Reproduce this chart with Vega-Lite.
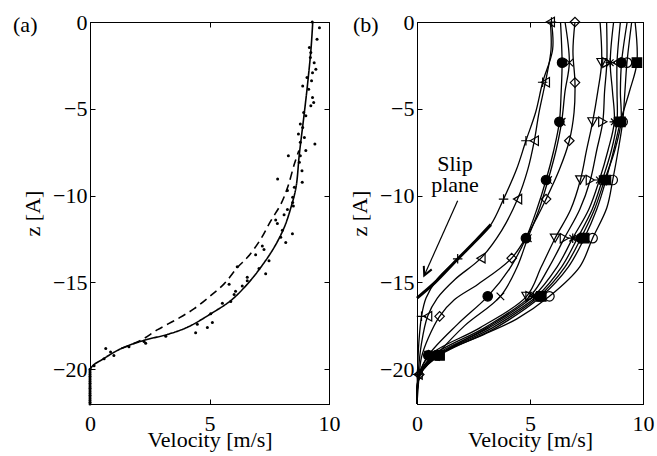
{
  "$schema": "https://vega.github.io/schema/vega-lite/v6.json",
  "background": "white",
  "padding": {"left": 12, "top": 10, "right": 4, "bottom": 4},
  "bounds": "flush",
  "spacing": 88,
  "config": {
    "view": {"stroke": "black", "strokeWidth": 1},
    "axis": {"domainColor": "black", "tickColor": "black", "labelColor": "black", "titleColor": "black", "labelFont": "Liberation Serif", "titleFont": "Liberation Serif", "labelFontSize": 22, "titleFontSize": 22, "titleFontWeight": "normal", "grid": false, "labelFlush": false, "labelOverlap": false, "labelBound": false},
    "text": {"font": "Liberation Serif", "fontSize": 22, "color": "black"}
  },
  "datasets": {
    "a_dots": [
      {"v":9.3,"z":0},{"v":9.6,"z":-0.33},{"v":9.5,"z":-1.0},{"v":9.18,"z":-1.47},{"v":9.24,"z":-1.76},{"v":9.22,"z":-2.05},{"v":9.38,"z":-2.34},{"v":9.45,"z":-2.72},{"v":9.31,"z":-2.92},{"v":9.08,"z":-3.2},{"v":9.27,"z":-3.39},{"v":8.9,"z":-3.68},{"v":9.15,"z":-3.87},{"v":9.31,"z":-4.35},{"v":9.36,"z":-4.64},{"v":9.24,"z":-4.83},{"v":8.94,"z":-5.21},{"v":9.03,"z":-5.4},{"v":8.8,"z":-5.88},{"v":8.9,"z":-6.07},{"v":8.72,"z":-6.45},{"v":8.97,"z":-6.65},{"v":8.8,"z":-6.93},{"v":9.41,"z":-7.03},{"v":9.03,"z":-7.4},{"v":8.8,"z":-7.7},{"v":8.3,"z":-7.7},{"v":8.76,"z":-8.08},{"v":8.87,"z":-8.56},{"v":7.85,"z":-9.04},{"v":8.88,"z":-9.23},{"v":8.55,"z":-9.52},{"v":8.26,"z":-9.7},{"v":8.48,"z":-10.1},{"v":8.48,"z":-10.4},{"v":8.51,"z":-10.6},{"v":8.26,"z":-10.8},{"v":8.12,"z":-11.1},{"v":7.77,"z":-11.4},{"v":7.84,"z":-11.6},{"v":8.05,"z":-12.0},{"v":8.47,"z":-12.2},{"v":7.98,"z":-12.4},{"v":8.19,"z":-12.7},{"v":7.21,"z":-12.9},{"v":7.28,"z":-13.1},{"v":6.93,"z":-13.4},{"v":7.49,"z":-13.75},{"v":6.16,"z":-14.1},{"v":7.07,"z":-14.2},{"v":7.35,"z":-14.5},{"v":6.58,"z":-14.7},{"v":6.58,"z":-14.9},{"v":5.82,"z":-15.1},{"v":6.37,"z":-15.2},{"v":6.09,"z":-15.5},{"v":6.03,"z":-15.7},{"v":5.89,"z":-16.1},{"v":5.54,"z":-16.2},{"v":5.05,"z":-16.8},{"v":5.12,"z":-17.3},{"v":4.49,"z":-17.4},{"v":4.91,"z":-17.6},{"v":4.42,"z":-17.9},{"v":3.17,"z":-18.1},{"v":2.26,"z":-18.4},{"v":2.33,"z":-18.5},{"v":1.63,"z":-18.7},{"v":0.66,"z":-18.8},{"v":0.86,"z":-19.0},{"v":1.0,"z":-19.2},{"v":0.59,"z":-19.4},{"v":0.17,"z":-19.8},
      {"v":0,"z":-20.0},{"v":0,"z":-20.1},{"v":0,"z":-20.2},{"v":0,"z":-20.3},{"v":0,"z":-20.4},{"v":0,"z":-20.5},{"v":0,"z":-20.6},{"v":0,"z":-20.7},{"v":0,"z":-20.8},{"v":0,"z":-20.9},{"v":0,"z":-21.0},{"v":0,"z":-21.1},{"v":0,"z":-21.2},{"v":0,"z":-21.3},{"v":0,"z":-21.4},{"v":0,"z":-21.5},{"v":0,"z":-21.6},{"v":0,"z":-21.7},{"v":0,"z":-21.8},{"v":0,"z":-21.9},{"v":0,"z":-22.0}
    ],
    "a_lines": [
      {"s":"solid","v":0,"z":-20.0},{"s":"solid","v":0.15,"z":-19.75},{"s":"solid","v":0.46,"z":-19.48},{"s":"solid","v":1.3,"z":-18.81},{"s":"solid","v":2.27,"z":-18.33},{"s":"solid","v":3.25,"z":-17.99},{"s":"solid","v":4.09,"z":-17.57},{"s":"solid","v":5.06,"z":-16.8},{"s":"solid","v":5.9,"z":-16.03},{"s":"solid","v":6.6,"z":-15.07},{"s":"solid","v":7.15,"z":-14.12},{"s":"solid","v":7.71,"z":-12.97},{"s":"solid","v":8.13,"z":-11.82},{"s":"solid","v":8.41,"z":-10.67},{"s":"solid","v":8.62,"z":-9.52},{"s":"solid","v":8.76,"z":-7.6},{"s":"solid","v":8.97,"z":-5.2},{"s":"solid","v":9.11,"z":-3.49},{"s":"solid","v":9.25,"z":-1.5},{"s":"solid","v":9.32,"z":0},
      {"s":"dashed","v":1.3,"z":-18.81},{"s":"dashed","v":2.13,"z":-18.33},{"s":"dashed","v":2.83,"z":-17.72},{"s":"dashed","v":3.67,"z":-17.09},{"s":"dashed","v":4.36,"z":-16.51},{"s":"dashed","v":5.06,"z":-15.75},{"s":"dashed","v":5.62,"z":-15.07},{"s":"dashed","v":6.18,"z":-14.12},{"s":"dashed","v":6.6,"z":-13.54},{"s":"dashed","v":7.15,"z":-12.49},{"s":"dashed","v":7.57,"z":-11.44},{"s":"dashed","v":7.99,"z":-10.48},{"s":"dashed","v":8.27,"z":-9.52},{"s":"dashed","v":8.55,"z":-8.18},{"s":"dashed","v":8.74,"z":-7.4}
    ],
    "b_slip": [
      {"v":0,"z":-15.9},{"v":0.8,"z":-15.0},{"v":1.8,"z":-13.65},{"v":2.6,"z":-12.6},{"v":3.27,"z":-11.67}
    ],
    "b_curves": [
      {"c":"plus","v":5.95,"z":0,"m":1},{"c":"plus","v":6.0,"z":-1.6,"m":0},{"c":"plus","v":5.56,"z":-3.47,"m":1},{"c":"plus","v":5.25,"z":-5.2,"m":0},{"c":"plus","v":4.82,"z":-6.84,"m":1},{"c":"plus","v":4.4,"z":-8.5,"m":0},{"c":"plus","v":3.83,"z":-10.2,"m":1},{"c":"plus","v":3.27,"z":-11.67,"m":0},{"c":"plus","v":2.6,"z":-12.6,"m":0},{"c":"plus","v":1.8,"z":-13.64,"m":1},{"c":"plus","v":0.9,"z":-14.8,"m":0},{"c":"plus","v":0.4,"z":-15.9,"m":0},{"c":"plus","v":0.2,"z":-16.95,"m":1},{"c":"plus","v":0.08,"z":-18.5,"m":0},{"c":"plus","v":0.02,"z":-20.3,"m":1},{"c":"plus","v":0,"z":-22,"m":0},
      {"c":"tril","v":5.9,"z":0,"m":1},{"c":"tril","v":5.93,"z":-1.6,"m":0},{"c":"tril","v":5.68,"z":-3.47,"m":1},{"c":"tril","v":5.4,"z":-5.2,"m":0},{"c":"tril","v":5.19,"z":-6.84,"m":1},{"c":"tril","v":4.9,"z":-8.5,"m":0},{"c":"tril","v":4.45,"z":-10.2,"m":1},{"c":"tril","v":3.75,"z":-12.0,"m":0},{"c":"tril","v":2.83,"z":-13.6,"m":1},{"c":"tril","v":1.7,"z":-14.8,"m":0},{"c":"tril","v":0.9,"z":-15.9,"m":0},{"c":"tril","v":0.47,"z":-16.95,"m":1},{"c":"tril","v":0.2,"z":-18.5,"m":0},{"c":"tril","v":0.05,"z":-20.3,"m":1},{"c":"tril","v":0,"z":-22,"m":0},
      {"c":"diam","v":6.99,"z":0,"m":1},{"c":"diam","v":6.9,"z":-1.7,"m":0},{"c":"diam","v":6.99,"z":-3.49,"m":1},{"c":"diam","v":6.95,"z":-5.2,"m":0},{"c":"diam","v":6.74,"z":-6.84,"m":1},{"c":"diam","v":6.3,"z":-8.5,"m":0},{"c":"diam","v":5.71,"z":-10.2,"m":1},{"c":"diam","v":5.0,"z":-12.0,"m":0},{"c":"diam","v":4.19,"z":-13.6,"m":1},{"c":"diam","v":2.7,"z":-15.1,"m":0},{"c":"diam","v":1.65,"z":-16.0,"m":0},{"c":"diam","v":1.0,"z":-16.95,"m":1},{"c":"diam","v":0.5,"z":-18.2,"m":0},{"c":"diam","v":0.2,"z":-19.3,"m":0},{"c":"diam","v":0.1,"z":-20.3,"m":1},{"c":"diam","v":0,"z":-22,"m":0},
      {"c":"dot","v":6.35,"z":0,"m":0},{"c":"dot","v":6.42,"z":-2.34,"m":1},{"c":"dot","v":6.38,"z":-4.0,"m":0},{"c":"dot","v":6.3,"z":-5.75,"m":1},{"c":"dot","v":6.05,"z":-7.4,"m":0},{"c":"dot","v":5.71,"z":-9.1,"m":1},{"c":"dot","v":5.3,"z":-10.8,"m":0},{"c":"dot","v":4.82,"z":-12.45,"m":1},{"c":"dot","v":4.1,"z":-14.2,"m":0},{"c":"dot","v":3.13,"z":-15.8,"m":1},{"c":"dot","v":1.8,"z":-17.4,"m":0},{"c":"dot","v":0.5,"z":-19.2,"m":1},{"c":"dot","v":0.1,"z":-20.3,"m":0},{"c":"dot","v":0,"z":-22,"m":0},
      {"c":"x","v":6.55,"z":0,"m":0},{"c":"x","v":6.74,"z":-2.34,"m":1},{"c":"x","v":6.55,"z":-4.0,"m":0},{"c":"x","v":6.4,"z":-5.75,"m":1},{"c":"x","v":6.15,"z":-7.4,"m":0},{"c":"x","v":5.8,"z":-9.1,"m":1},{"c":"x","v":5.4,"z":-10.8,"m":0},{"c":"x","v":4.9,"z":-12.45,"m":1},{"c":"x","v":4.4,"z":-14.2,"m":0},{"c":"x","v":3.69,"z":-15.8,"m":1},{"c":"x","v":2.1,"z":-17.5,"m":0},{"c":"x","v":0.84,"z":-19.2,"m":1},{"c":"x","v":0.12,"z":-20.3,"m":0},{"c":"x","v":0,"z":-22,"m":0},
      {"c":"tridn","v":8.1,"z":0,"m":0},{"c":"tridn","v":8.17,"z":-2.34,"m":1},{"c":"tridn","v":8.0,"z":-4.0,"m":0},{"c":"tridn","v":7.77,"z":-5.75,"m":1},{"c":"tridn","v":7.5,"z":-7.4,"m":0},{"c":"tridn","v":7.23,"z":-9.1,"m":1},{"c":"tridn","v":6.8,"z":-10.8,"m":0},{"c":"tridn","v":6.11,"z":-12.45,"m":1},{"c":"tridn","v":5.5,"z":-14.1,"m":0},{"c":"tridn","v":4.85,"z":-15.8,"m":1},{"c":"tridn","v":2.8,"z":-17.6,"m":0},{"c":"tridn","v":0.55,"z":-19.2,"m":1},{"c":"tridn","v":0.1,"z":-20.3,"m":0},{"c":"tridn","v":0,"z":-22,"m":0},
      {"c":"trir","v":8.39,"z":0,"m":0},{"c":"trir","v":8.4,"z":-2.34,"m":1},{"c":"trir","v":8.3,"z":-4.0,"m":0},{"c":"trir","v":8.22,"z":-5.75,"m":1},{"c":"trir","v":7.95,"z":-7.4,"m":0},{"c":"trir","v":7.67,"z":-9.1,"m":1},{"c":"trir","v":7.2,"z":-10.8,"m":0},{"c":"trir","v":6.52,"z":-12.45,"m":1},{"c":"trir","v":5.85,"z":-14.1,"m":0},{"c":"trir","v":5.0,"z":-15.8,"m":1},{"c":"trir","v":3.0,"z":-17.6,"m":0},{"c":"trir","v":0.7,"z":-19.2,"m":1},{"c":"trir","v":0.1,"z":-20.3,"m":0},{"c":"trir","v":0,"z":-22,"m":0},
      {"c":"star","v":8.7,"z":0,"m":0},{"c":"star","v":8.55,"z":-2.34,"m":1},{"c":"star","v":8.65,"z":-4.0,"m":0},{"c":"star","v":8.73,"z":-5.75,"m":1},{"c":"star","v":8.45,"z":-7.4,"m":0},{"c":"star","v":8.07,"z":-9.1,"m":1},{"c":"star","v":7.6,"z":-10.8,"m":0},{"c":"star","v":6.89,"z":-12.45,"m":1},{"c":"star","v":6.2,"z":-14.1,"m":0},{"c":"star","v":5.15,"z":-15.8,"m":1},{"c":"star","v":3.1,"z":-17.6,"m":0},{"c":"star","v":0.95,"z":-19.2,"m":1},{"c":"star","v":0.15,"z":-20.3,"m":0},{"c":"star","v":0,"z":-22,"m":0},
      {"c":"tril2","v":9.0,"z":0,"m":0},{"c":"tril2","v":8.85,"z":-2.34,"m":1},{"c":"tril2","v":8.85,"z":-4.0,"m":0},{"c":"tril2","v":8.85,"z":-5.75,"m":1},{"c":"tril2","v":8.6,"z":-7.4,"m":0},{"c":"tril2","v":8.2,"z":-9.1,"m":1},{"c":"tril2","v":7.75,"z":-10.8,"m":0},{"c":"tril2","v":7.1,"z":-12.45,"m":1},{"c":"tril2","v":6.4,"z":-14.1,"m":0},{"c":"tril2","v":5.3,"z":-15.8,"m":1},{"c":"tril2","v":3.2,"z":-17.6,"m":0},{"c":"tril2","v":0.8,"z":-19.2,"m":1},{"c":"tril2","v":0.12,"z":-20.3,"m":0},{"c":"tril2","v":0,"z":-22,"m":0},
      {"c":"dot2","v":9.3,"z":0,"m":0},{"c":"dot2","v":9.05,"z":-2.34,"m":1},{"c":"dot2","v":9.0,"z":-4.0,"m":0},{"c":"dot2","v":9.03,"z":-5.75,"m":1},{"c":"dot2","v":8.75,"z":-7.4,"m":0},{"c":"dot2","v":8.3,"z":-9.1,"m":1},{"c":"dot2","v":7.85,"z":-10.8,"m":0},{"c":"dot2","v":7.25,"z":-12.45,"m":1},{"c":"dot2","v":6.55,"z":-14.1,"m":0},{"c":"dot2","v":5.4,"z":-15.8,"m":1},{"c":"dot2","v":3.35,"z":-17.6,"m":0},{"c":"dot2","v":0.9,"z":-19.2,"m":1},{"c":"dot2","v":0.12,"z":-20.3,"m":0},{"c":"dot2","v":0,"z":-22,"m":0},
      {"c":"sq","v":9.65,"z":0,"m":0},{"c":"sq","v":9.73,"z":-2.34,"m":1},{"c":"sq","v":9.4,"z":-4.0,"m":0},{"c":"sq","v":9.0,"z":-5.75,"m":1},{"c":"sq","v":8.7,"z":-7.4,"m":0},{"c":"sq","v":8.36,"z":-9.1,"m":1},{"c":"sq","v":7.95,"z":-10.8,"m":0},{"c":"sq","v":7.4,"z":-12.45,"m":1},{"c":"sq","v":6.7,"z":-14.1,"m":0},{"c":"sq","v":5.5,"z":-15.8,"m":1},{"c":"sq","v":3.5,"z":-17.6,"m":0},{"c":"sq","v":1.0,"z":-19.2,"m":1},{"c":"sq","v":0.15,"z":-20.3,"m":0},{"c":"sq","v":0,"z":-22,"m":0},
      {"c":"circ","v":9.5,"z":0,"m":0},{"c":"circ","v":9.29,"z":-2.34,"m":1},{"c":"circ","v":9.2,"z":-4.0,"m":0},{"c":"circ","v":9.1,"z":-5.75,"m":1},{"c":"circ","v":8.9,"z":-7.4,"m":0},{"c":"circ","v":8.66,"z":-9.1,"m":1},{"c":"circ","v":8.4,"z":-10.7,"m":0},{"c":"circ","v":7.77,"z":-12.45,"m":1},{"c":"circ","v":7.2,"z":-14.1,"m":0},{"c":"circ","v":5.86,"z":-15.8,"m":1},{"c":"circ","v":4.42,"z":-17.1,"m":0},{"c":"circ","v":2.95,"z":-18.0,"m":0},{"c":"circ","v":1.47,"z":-18.8,"m":0},{"c":"circ","v":0.6,"z":-19.4,"m":0},{"c":"circ","v":0.12,"z":-20.3,"m":0},{"c":"circ","v":0,"z":-22,"m":0}
    ]
  },
  "hconcat": [
    {
      "width": 239,
      "height": 382,
      "layer": [
        {
          "data": {"name": "a_dots"},
          "mark": {"type": "point", "filled": true, "size": 9, "color": "black", "opacity": 1},
          "encoding": {
            "x": {"field": "v", "type": "quantitative", "scale": {"domain": [0, 10], "nice": false}, "axis": {"orient": "bottom", "values": [0, 5, 10], "title": "Velocity [m/s]", "tickSize": -5, "labelPadding": 14, "titlePadding": -5}},
            "y": {"field": "z", "type": "quantitative", "scale": {"domain": [-22, 0], "nice": false}, "axis": {"orient": "left", "values": [-20, -15, -10, -5, 0], "title": "z [A]", "tickSize": -5, "labelPadding": 8, "titlePadding": 8}}
          }
        },
        {
          "data": {"name": "a_lines"},
          "mark": {"type": "line", "color": "black", "strokeWidth": 1.6, "interpolate": "catmull-rom"},
          "encoding": {
            "x": {"field": "v", "type": "quantitative", "axis": {"orient": "top", "values": [0, 5, 10], "labels": false, "title": null, "tickSize": -5}},
            "y": {"field": "z", "type": "quantitative", "axis": {"orient": "right", "values": [-20, -15, -10, -5, 0], "labels": false, "title": null, "tickSize": -5}},
            "detail": {"field": "s", "type": "nominal"},
            "order": {"field": "z", "type": "quantitative"},
            "strokeDash": {"field": "s", "type": "nominal", "scale": {"domain": ["solid", "dashed"], "range": [[1, 0], [8, 5]]}, "legend": null}
          }
        },
        {
          "data": {"values": [{}]},
          "mark": {"type": "text", "align": "left", "baseline": "middle"},
          "encoding": {
            "x": {"datum": -3.22, "type": "quantitative", "axis": null},
            "y": {"datum": -0.17, "type": "quantitative", "axis": null},
            "text": {"value": "(a)"}
          }
        }
      ],
      "resolve": {"axis": {"x": "independent", "y": "independent"}}
    },
    {
      "width": 226,
      "height": 382,
      "layer": [
        {
          "data": {"name": "b_curves"},
          "mark": {"type": "line", "color": "black", "strokeWidth": 1.3, "interpolate": "catmull-rom"},
          "encoding": {
            "x": {"field": "v", "type": "quantitative", "scale": {"domain": [0, 10], "nice": false}, "axis": {"orient": "bottom", "values": [0, 5, 10], "title": "Velocity [m/s]", "tickSize": -5, "labelPadding": 14, "titlePadding": -5}},
            "y": {"field": "z", "type": "quantitative", "scale": {"domain": [-22, 0], "nice": false}, "axis": {"orient": "left", "values": [-20, -15, -10, -5, 0], "title": "z [A]", "tickSize": -5, "labelPadding": 8, "titlePadding": 8}},
            "detail": {"field": "c", "type": "nominal"},
            "order": {"field": "z", "type": "quantitative"}
          }
        },
        {
          "data": {"name": "b_slip"},
          "mark": {"type": "line", "color": "black", "strokeWidth": 3, "interpolate": "catmull-rom"},
          "encoding": {
            "x": {"field": "v", "type": "quantitative", "axis": {"orient": "top", "values": [0, 5, 10], "labels": false, "title": null, "tickSize": -5}},
            "y": {"field": "z", "type": "quantitative", "axis": {"orient": "right", "values": [-20, -15, -10, -5, 0], "labels": false, "title": null, "tickSize": -5}},
            "order": {"field": "z", "type": "quantitative"}
          }
        },
        {
          "data": {"name": "b_curves"},
          "transform": [{"filter": "datum.m == 1"}],
          "mark": {"type": "point", "filled": true, "size": 90, "stroke": "black", "strokeWidth": 1.2, "opacity": 1},
          "encoding": {
            "x": {"field": "v", "type": "quantitative", "axis": null},
            "y": {"field": "z", "type": "quantitative", "axis": null},
            "shape": {"field": "c", "type": "nominal", "legend": null, "scale": {"domain": ["plus","tril","diam","dot","x","tridn","trir","star","tril2","dot2","sq","circ"], "range": ["M-1,0H1M0,-1V1","triangle-left","diamond","circle","M-0.8,-0.8L0.8,0.8M-0.8,0.8L0.8,-0.8","triangle-down","triangle-right","M-1,0H1M0,-1V1M-0.7,-0.7L0.7,0.7M-0.7,0.7L0.7,-0.7","triangle-left","circle","square","circle"]}},
            "fill": {"field": "c", "type": "nominal", "legend": null, "scale": {"domain": ["plus","tril","diam","dot","x","tridn","trir","star","tril2","dot2","sq","circ"], "range": ["transparent","transparent","transparent","black","transparent","transparent","transparent","transparent","transparent","black","black","transparent"]}}
          }
        },
        {
          "data": {"values": [{}]},
          "mark": {"type": "text", "align": "center", "baseline": "alphabetic"},
          "encoding": {
            "x": {"datum": 1.68, "type": "quantitative", "axis": null},
            "y": {"datum": -8.6, "type": "quantitative", "axis": null},
            "text": {"value": "Slip"}
          }
        },
        {
          "data": {"values": [{}]},
          "mark": {"type": "text", "align": "center", "baseline": "alphabetic"},
          "encoding": {
            "x": {"datum": 1.68, "type": "quantitative", "axis": null},
            "y": {"datum": -9.8, "type": "quantitative", "axis": null},
            "text": {"value": "plane"}
          }
        },
        {
          "data": {"values": [{}]},
          "mark": {"type": "rule", "color": "black", "strokeWidth": 1.2},
          "encoding": {
            "x": {"datum": 1.8, "type": "quantitative", "axis": null},
            "y": {"datum": -10.29, "type": "quantitative", "axis": null},
            "x2": {"datum": 0.32},
            "y2": {"datum": -14.6}
          }
        },
        {
          "data": {"values": [{}]},
          "mark": {"type": "point", "shape": "M-0.5,1L0,0L0.5,1", "angle": 204, "size": 300, "filled": false, "stroke": "black", "strokeWidth": 2, "opacity": 1},
          "encoding": {
            "x": {"datum": 0.32, "type": "quantitative", "axis": null},
            "y": {"datum": -14.6, "type": "quantitative", "axis": null}
          }
        },
        {
          "data": {"values": [{}]},
          "mark": {"type": "text", "align": "left", "baseline": "middle"},
          "encoding": {
            "x": {"datum": -2.83, "type": "quantitative", "axis": null},
            "y": {"datum": -0.17, "type": "quantitative", "axis": null},
            "text": {"value": "(b)"}
          }
        }
      ],
      "resolve": {"axis": {"x": "independent", "y": "independent"}}
    }
  ]
}
